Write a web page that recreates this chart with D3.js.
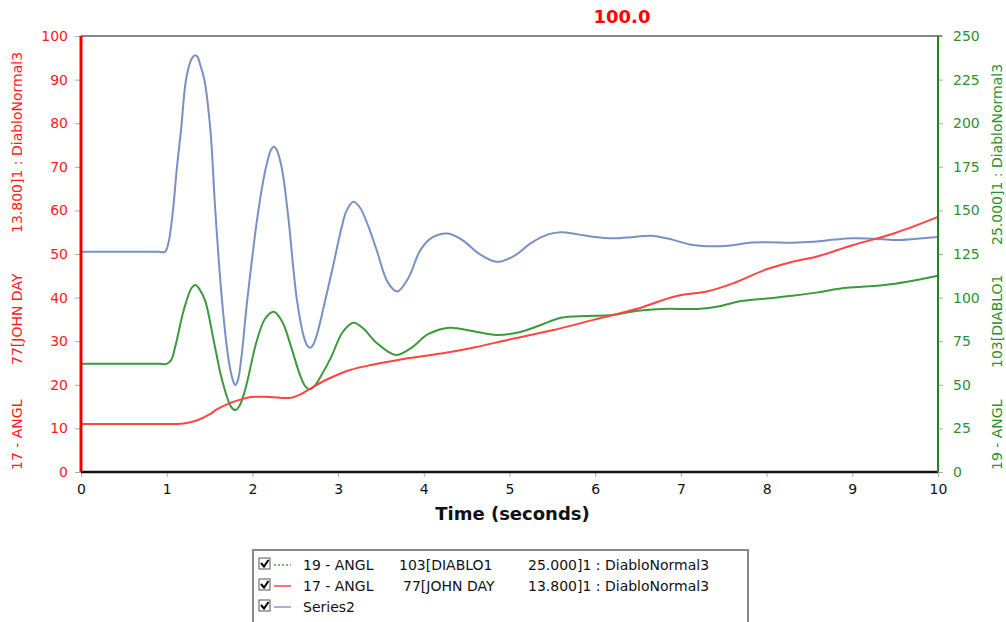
<!DOCTYPE html>
<html><head><meta charset="utf-8">
<script src="https://cdn.jsdelivr.net/npm/d3@7"></script>
<style>
body{margin:0;background:#fff;}
svg{display:block;font-family:"DejaVu Sans",Verdana,sans-serif;}
</style></head>
<body><svg id="c" width="1006" height="622"></svg>
<script>
// ---- data ----
const titleText = "100.0";
const xTicks = [0,1,2,3,4,5,6,7,8,9,10];
const leftTicks = [0,10,20,30,40,50,60,70,80,90,100];
const rightTicks = [0,25,50,75,100,125,150,175,200,225,250];
const xLabel = "Time (seconds)";
const leftLabelParts = ["17 - ANGL", "77[JOHN DAY", "13.800]1 : DiabloNormal3"];
const rightLabelParts = ["19 - ANGL", "103[DIABLO1", "25.000]1 : DiabloNormal3"];
const seriesNames = ["Series2"];

// Series2 (blue, left axis)
const blueT = [0,0.25,0.5,0.75,0.9,0.98,1.02,1.073,1.12,1.167,1.225,1.28,1.31,1.334,1.36,1.39,1.44,1.51,1.567,1.645,1.72,1.77,1.80,1.83,1.87,1.94,2.07,2.16,2.22,2.25,2.28,2.34,2.41,2.52,2.60,2.64,2.675,2.71,2.76,2.85,2.95,3.04,3.1,3.18,3.26,3.35,3.45,3.58,3.69,3.82,3.96,4.1,4.28,4.45,4.65,4.85,5.05,5.25,5.45,5.6,5.8,6.0,6.2,6.45,6.65,6.9,7.1,7.3,7.55,7.8,8.0,8.3,8.55,8.8,9.0,9.25,9.5,9.75,10];
const blueV = [50.5,50.5,50.5,50.5,50.5,50.5,52.5,60,70,78.4,89.9,94.3,95.3,95.6,95.2,93.5,89.9,78.4,60,39.4,26,21.2,19.95,21,26,39.4,60,70,74,74.6,74,70,60,39.4,31,29,28.5,29.2,32,39.4,48,56,60,62,60.5,56.5,50.9,43.5,41.4,44.5,50.9,53.8,54.7,53.2,50,48.2,49.5,52.5,54.5,55,54.5,53.9,53.6,53.9,54.2,53.3,52.2,51.8,51.9,52.6,52.7,52.6,52.8,53.3,53.6,53.5,53.2,53.5,53.9];

// 19 - ANGL (green, right axis)
const greenT = [0,0.25,0.5,0.75,0.92,1.0,1.05,1.1,1.2,1.29,1.334,1.38,1.45,1.55,1.65,1.75,1.80,1.85,1.92,2.05,2.15,2.25,2.35,2.45,2.56,2.62,2.67,2.72,2.8,2.92,3.05,3.18,3.3,3.45,3.67,3.85,4.05,4.3,4.55,4.85,5.1,5.35,5.6,5.9,6.2,6.5,6.8,7.2,7.45,7.7,8.0,8.3,8.6,8.9,9.2,9.5,9.8,10];
const greenV = [62,62,62,62,62,62,64,72,93,105.5,107.2,105,98,75,52,37.5,35.5,38,48,75,88,91.9,86,72,55,49,47.4,49,55,66,80,85.6,82,74,67.1,71,79,82.7,81,78.5,80,84,88.5,89.5,90,92.5,93.5,93.5,95,98,99.5,101,103,105.5,106.5,108,110.5,112.5];

// 17 - ANGL (red, left axis)
const redT = [0,0.3,0.6,0.9,1.1,1.2,1.35,1.5,1.59,1.75,1.86,1.98,2.2,2.44,2.58,2.68,2.9,3.14,3.4,3.73,4.0,4.31,4.6,5.0,5.5,6.0,6.5,6.8,7.0,7.3,7.6,8.0,8.3,8.6,9.0,9.5,10];
const redV = [11,11,11,11,11,11.1,11.8,13.2,14.4,15.9,16.6,17.2,17.2,17.0,18,19.2,21.5,23.4,24.6,25.8,26.6,27.5,28.6,30.4,32.5,35,37.5,39.5,40.6,41.4,43.2,46.5,48.2,49.5,52,54.8,58.5];

// ---- drawing ----
const svg = d3.select("#c");
const L = 81, R = 938, T = 36, B = 472;
const x = d3.scaleLinear().domain([0,10]).range([L,R]);
const yL = d3.scaleLinear().domain([0,100]).range([B,T]);
const yR = d3.scaleLinear().domain([0,250]).range([B,T]);

const RED = "#ff1a1a", GREEN = "#2f8f2f";

// title
svg.append("text").attr("x",622).attr("y",23).attr("text-anchor","middle")
  .attr("font-size",18).attr("font-weight","bold").attr("fill","#ff0000").text(titleText);

// axes
function styleAxis(g, color){
  g.select(".domain").remove();
  g.selectAll(".tick line").attr("stroke","#aaa");
  g.selectAll(".tick text").attr("fill",color).attr("font-size",14)
    .attr("font-family","DejaVu Sans, Verdana, sans-serif");
}
const gx = svg.append("g").attr("transform",`translate(0,${B})`)
  .call(d3.axisBottom(x).tickValues(xTicks).tickFormat(d3.format("d")).tickSize(5).tickPadding(7));
styleAxis(gx,"#111");
const gl = svg.append("g").attr("transform",`translate(${L},0)`)
  .call(d3.axisLeft(yL).tickValues(leftTicks).tickFormat(d3.format("d")).tickSize(6).tickPadding(7));
styleAxis(gl,RED);
const gr = svg.append("g").attr("transform",`translate(${R},0)`)
  .call(d3.axisRight(yR).tickValues(rightTicks).tickFormat(d3.format("d")).tickSize(5).tickPadding(10));
styleAxis(gr,GREEN);

// series lines
const mk = (ts,vs)=>ts.map((t,i)=>[t,vs[i]]);
const curve = d3.curveCatmullRom.alpha(0.5);
const lineL = d3.line().x(d=>x(d[0])).y(d=>yL(d[1])).curve(curve);
const lineR = d3.line().x(d=>x(d[0])).y(d=>yR(d[1])).curve(curve);
const plot = svg.append("g");
plot.append("path").attr("d",lineL(mk(blueT,blueV))).attr("fill","none")
  .attr("stroke","#7890c4").attr("stroke-width",2);
plot.append("path").attr("d",lineR(mk(greenT,greenV))).attr("fill","none")
  .attr("stroke","#3c9a3c").attr("stroke-width",2);
plot.append("path").attr("d",lineL(mk(redT,redV))).attr("fill","none")
  .attr("stroke","#ff4444").attr("stroke-width",2);

// frame lines
svg.append("line").attr("x1",L).attr("x2",R+4).attr("y1",T).attr("y2",T).attr("stroke","#888").attr("stroke-width",2);
svg.append("line").attr("x1",L).attr("x2",R).attr("y1",B).attr("y2",B).attr("stroke","#111").attr("stroke-width",2.5);
svg.append("line").attr("x1",L).attr("x2",L).attr("y1",T).attr("y2",B).attr("stroke","#ee0000").attr("stroke-width",3);
svg.append("line").attr("x1",R).attr("x2",R).attr("y1",T).attr("y2",B).attr("stroke","#1a8a1a").attr("stroke-width",2);

// axis titles
svg.append("text").attr("x",(L+R)/2+3).attr("y",520).attr("text-anchor","middle")
  .attr("font-size",18).attr("font-weight","bold").attr("fill","#111").text(xLabel);

const leftPos = [470,365,233];
const gLL = svg.append("g").attr("transform","translate(22,0) rotate(-90)");
leftLabelParts.forEach((s,i)=>gLL.append("text").attr("x",-leftPos[i]).attr("y",0)
  .attr("font-size",14).attr("fill",RED).text(s));
const rightPos = [470,368,245];
const gRL = svg.append("g").attr("transform","translate(1002,0) rotate(-90)");
rightLabelParts.forEach((s,i)=>gRL.append("text").attr("x",-rightPos[i]).attr("y",0)
  .attr("font-size",14).attr("fill",GREEN).text(s));

// legend
const lg = svg.append("g");
lg.append("rect").attr("x",253).attr("y",550).attr("width",495).attr("height",80)
  .attr("fill","#fff").attr("stroke","#888").attr("stroke-width",2);
const legendRows = [
  {parts:[["19 - ANGL",303],["103[DIABLO1",399],["25.000]1 : DiabloNormal3",528]], color:"#6cc06c", dash:"2,2"},
  {parts:[["17 - ANGL",303],["77[JOHN DAY",403],["13.800]1 : DiabloNormal3",528]], color:"#ff7070", dash:null},
  {parts:[[seriesNames[0],303]], color:"#a4b4d8", dash:null}
];
const rowY = [565,586,607];
legendRows.forEach((r,i)=>{
  const cy = rowY[i];
  lg.append("rect").attr("x",259).attr("y",cy-7).attr("width",11).attr("height",11)
    .attr("fill","#fff").attr("stroke","#555").attr("stroke-width",1);
  lg.append("path").attr("d",`M261,${cy-2} L264,${cy+1.5} L268.5,${cy-5}`)
    .attr("fill","none").attr("stroke","#000").attr("stroke-width",2);
  const ln = lg.append("line").attr("x1",274).attr("x2",291).attr("y1",cy).attr("y2",cy)
    .attr("stroke",r.color).attr("stroke-width",2);
  if(r.dash) ln.attr("stroke-dasharray",r.dash);
  r.parts.forEach(p=>lg.append("text").attr("x",p[1]).attr("y",cy+5)
    .attr("font-size",14).attr("fill","#111").text(p[0]));
});
</script></body></html>
